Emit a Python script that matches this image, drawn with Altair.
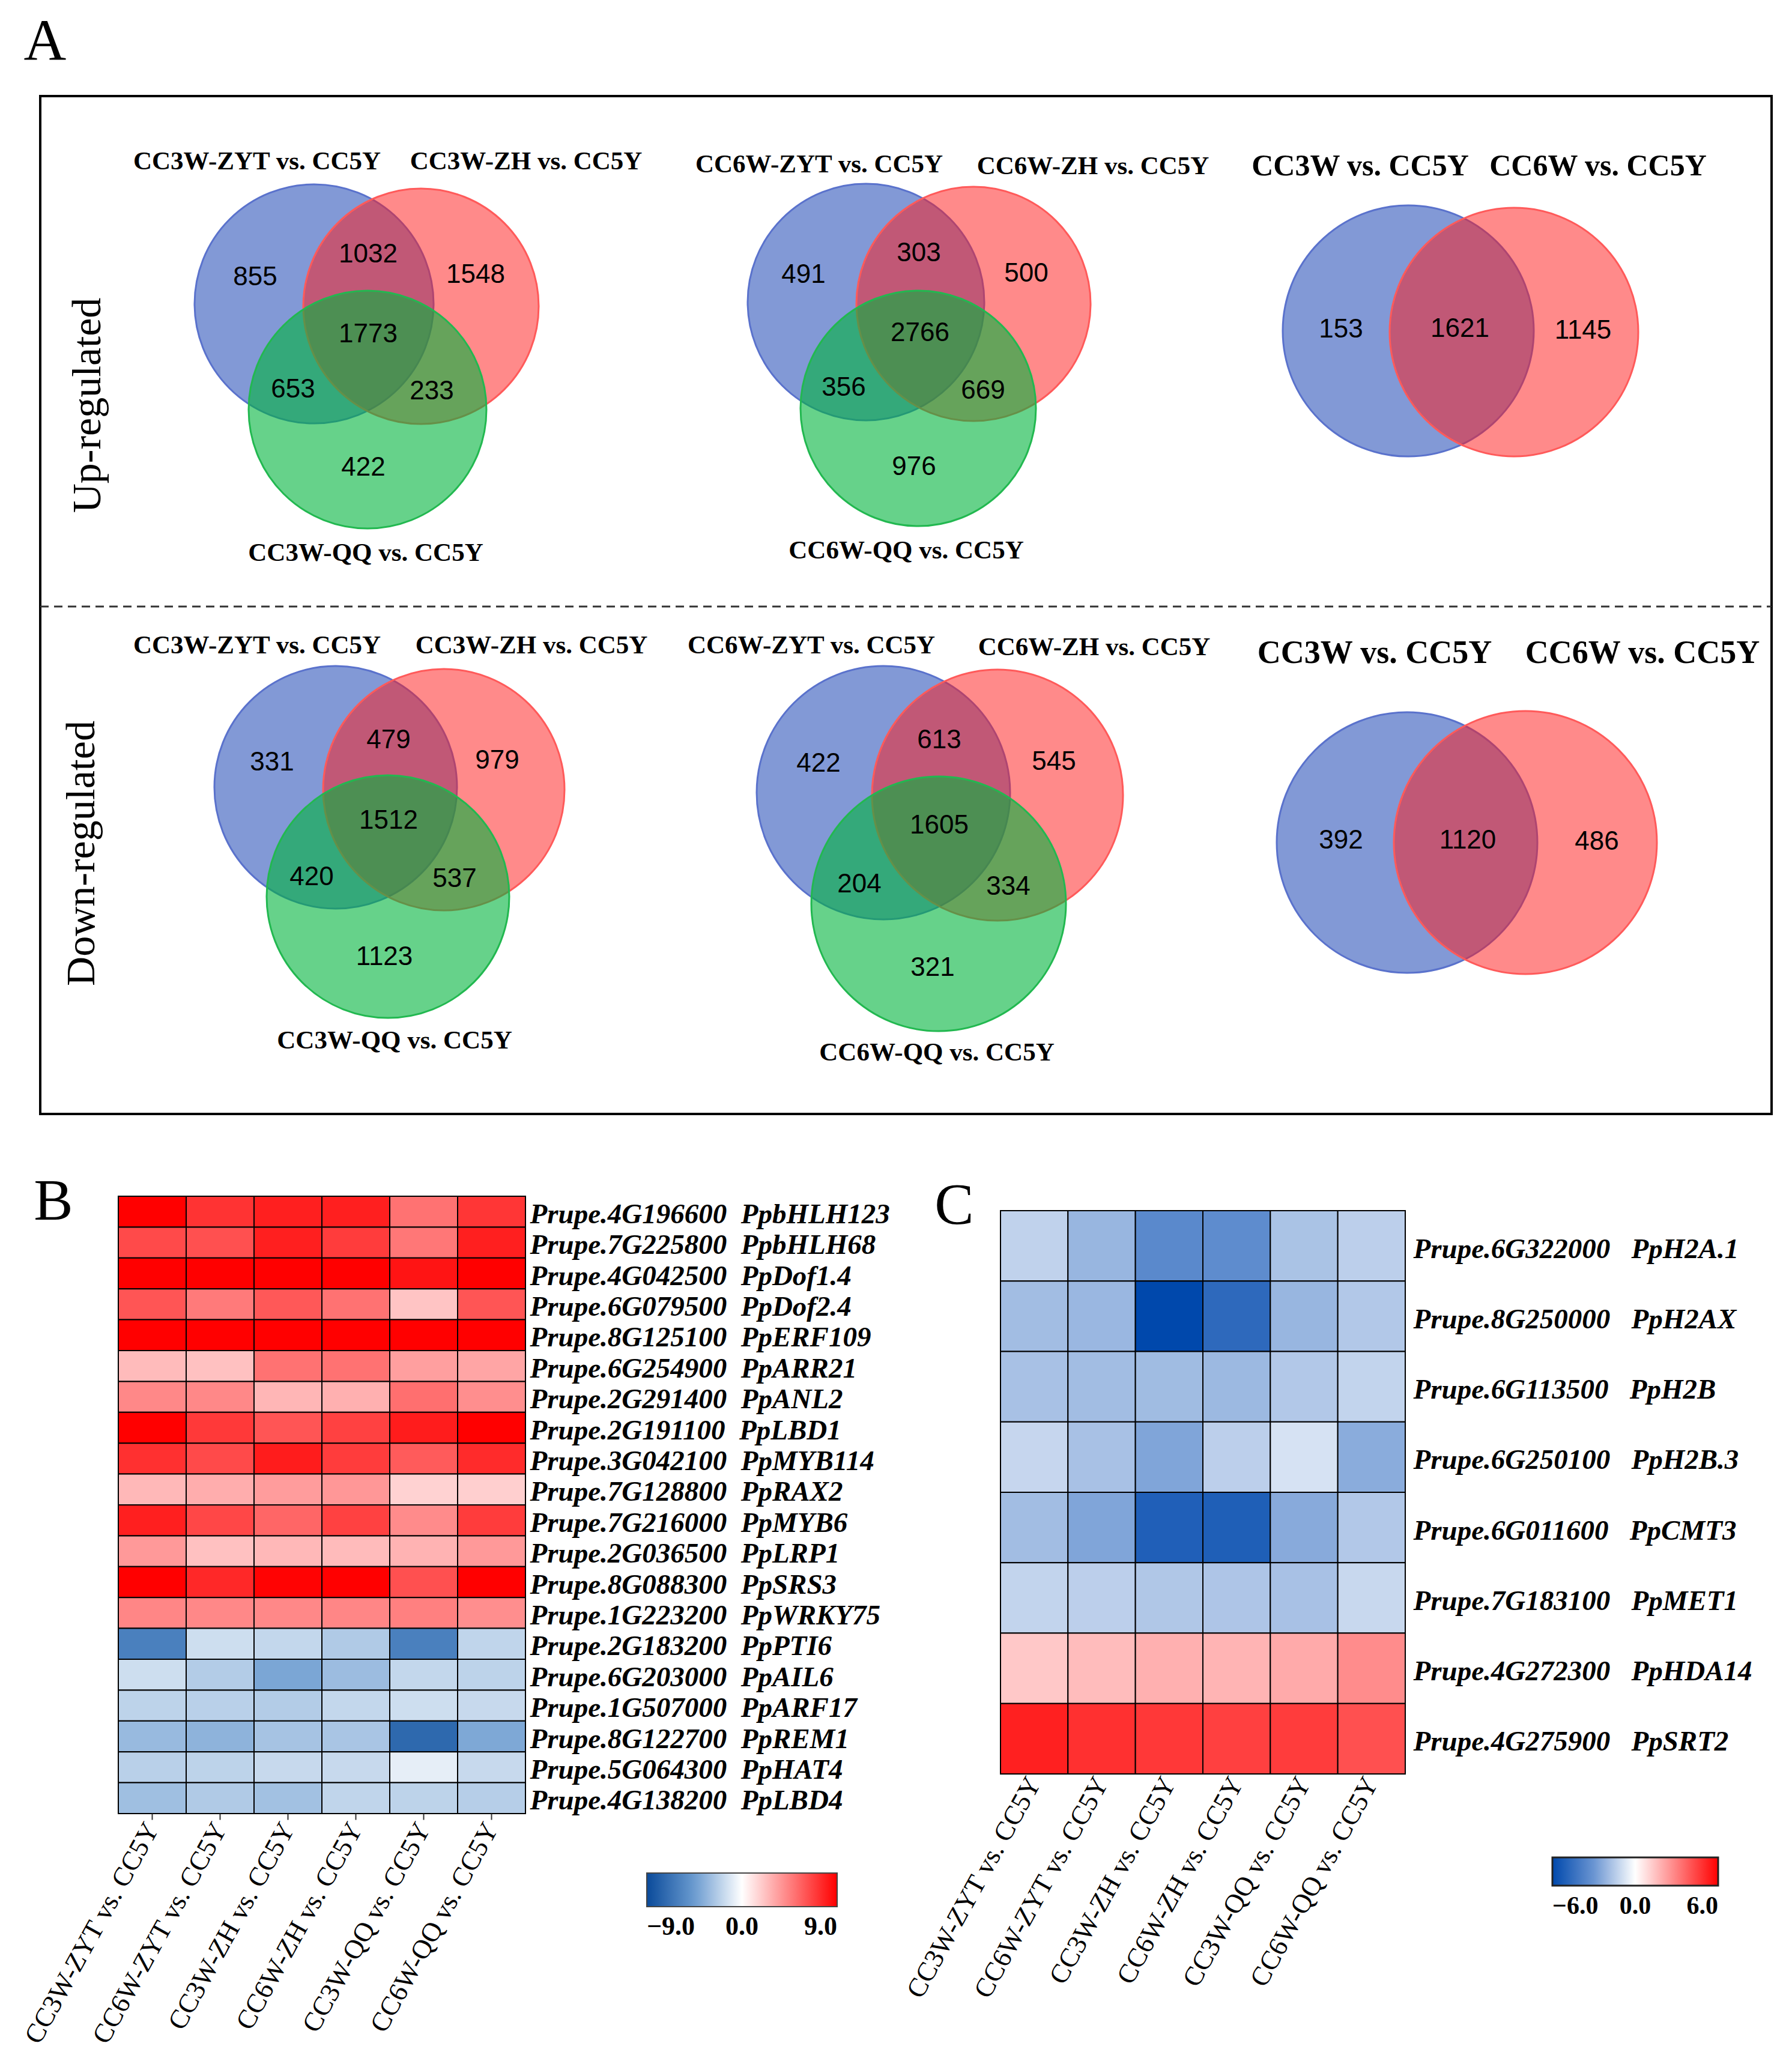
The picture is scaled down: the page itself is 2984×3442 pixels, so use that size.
import altair as alt
import pandas as pd

# ---------------------------------------------------------------- data
# Panel A : Venn diagrams (region order for 3 sets:
#   A only, A&B, B only, A&B&C, A&C, B&C, C only ; for 2 sets: A only, A&B, B only)
up_3w_sets = ["CC3W-ZYT vs. CC5Y", "CC3W-ZH vs. CC5Y", "CC3W-QQ vs. CC5Y"]
up_3w_counts = [855, 1032, 1548, 1773, 653, 233, 422]
up_6w_sets = ["CC6W-ZYT vs. CC5Y", "CC6W-ZH vs. CC5Y", "CC6W-QQ vs. CC5Y"]
up_6w_counts = [491, 303, 500, 2766, 356, 669, 976]
up_w_sets = ["CC3W vs. CC5Y", "CC6W vs. CC5Y"]
up_w_counts = [153, 1621, 1145]
down_3w_sets = ["CC3W-ZYT vs. CC5Y", "CC3W-ZH vs. CC5Y", "CC3W-QQ vs. CC5Y"]
down_3w_counts = [331, 479, 979, 1512, 420, 537, 1123]
down_6w_sets = ["CC6W-ZYT vs. CC5Y", "CC6W-ZH vs. CC5Y", "CC6W-QQ vs. CC5Y"]
down_6w_counts = [422, 613, 545, 1605, 204, 334, 321]
down_w_sets = ["CC3W vs. CC5Y", "CC6W vs. CC5Y"]
down_w_counts = [392, 1120, 486]
row_titles = ["Up-regulated", "Down-regulated"]
panel_letters = ["A", "B", "C"]

# Panels B and C : heatmaps
columns = ["CC3W-ZYT vs. CC5Y", "CC6W-ZYT vs. CC5Y", "CC3W-ZH vs. CC5Y",
           "CC6W-ZH vs. CC5Y", "CC3W-QQ vs. CC5Y", "CC6W-QQ vs. CC5Y"]

ids_b = ["Prupe.4G196600", "Prupe.7G225800", "Prupe.4G042500", "Prupe.6G079500",
         "Prupe.8G125100", "Prupe.6G254900", "Prupe.2G291400", "Prupe.2G191100",
         "Prupe.3G042100", "Prupe.7G128800", "Prupe.7G216000", "Prupe.2G036500",
         "Prupe.8G088300", "Prupe.1G223200", "Prupe.2G183200", "Prupe.6G203000",
         "Prupe.1G507000", "Prupe.8G122700", "Prupe.5G064300", "Prupe.4G138200"]
names_b = ["PpbHLH123", "PpbHLH68", "PpDof1.4", "PpDof2.4", "PpERF109", "PpARR21",
           "PpANL2", "PpLBD1", "PpMYB114", "PpRAX2", "PpMYB6", "PpLRP1", "PpSRS3",
           "PpWRKY75", "PpPTI6", "PpAIL6", "PpARF17", "PpREM1", "PpHAT4", "PpLBD4"]
vals_b = [
    [9.5, 7.2, 7.9, 7.9, 5.0, 7.1],
    [6.4, 6.2, 7.9, 6.9, 4.8, 7.9],
    [9.5, 9.3, 9.5, 9.2, 8.3, 9.4],
    [6.0, 4.7, 5.9, 5.0, 2.1, 6.0],
    [9.6, 9.5, 9.4, 9.5, 9.3, 9.6],
    [2.4, 2.2, 5.0, 5.0, 3.4, 3.2],
    [4.2, 4.2, 2.6, 2.8, 5.1, 4.0],
    [9.3, 7.0, 6.0, 6.7, 8.0, 9.4],
    [7.3, 6.4, 8.0, 6.9, 5.8, 7.5],
    [2.5, 2.9, 3.5, 3.7, 1.6, 1.7],
    [7.9, 6.5, 5.4, 6.7, 4.1, 6.9],
    [3.6, 2.2, 2.5, 2.4, 2.7, 3.6],
    [9.3, 7.6, 8.9, 9.2, 6.2, 9.4],
    [4.3, 4.2, 4.2, 4.3, 4.5, 4.0],
    [-6.0, -1.5, -1.8, -2.4, -6.0, -1.9],
    [-1.5, -2.3, -4.0, -3.0, -1.8, -2.0],
    [-2.0, -2.1, -2.3, -1.8, -1.5, -1.7],
    [-3.1, -3.4, -2.7, -2.6, -7.3, -3.9],
    [-2.1, -2.0, -1.7, -1.7, -0.75, -1.7],
    [-2.9, -2.4, -2.8, -1.9, -2.0, -2.2],
]

ids_c = ["Prupe.6G322000", "Prupe.8G250000", "Prupe.6G113500", "Prupe.6G250100",
         "Prupe.6G011600", "Prupe.7G183100", "Prupe.4G272300", "Prupe.4G275900"]
names_c = ["PpH2A.1", "PpH2AX", "PpH2B", "PpH2B.3", "PpCMT3", "PpMET1", "PpHDA14", "PpSRT2"]
vals_c = [
    [-1.27, -2.07, -3.45, -3.34, -1.71, -1.35],
    [-1.87, -2.03, -6.00, -4.70, -2.07, -1.55],
    [-1.75, -1.87, -1.91, -1.99, -1.55, -1.23],
    [-1.15, -1.75, -2.56, -1.35, -0.83, -2.36],
    [-1.87, -2.56, -5.09, -5.12, -2.40, -1.55],
    [-1.23, -1.35, -1.59, -1.63, -1.75, -1.11],
    [1.30, 1.58, 1.87, 1.77, 2.01, 2.72],
    [5.25, 4.88, 4.69, 4.50, 4.60, 4.13],
]

legend_b_values = [-9, 0, 9]
legend_c_values = [-6, 0, 6]

# ---------------------------------------------------------------- layout (figure pixels)
W, H = 2968, 3426
FIG_X = [8, 2976]
FIG_Y = [8, 3434]

venn_layout = [
    dict(sets=up_3w_sets, counts=up_3w_counts,
         circles=[(523, 506, 199), (701, 510, 196), (612, 682, 198)],
         label_xy=[(428, 269), (876, 269), (609, 921)],
         count_xy=[(425, 462), (613, 424), (792, 458), (613, 557), (488, 649), (719, 652), (605, 779)],
         fs=43),
    dict(sets=up_6w_sets, counts=up_6w_counts,
         circles=[(1442, 503, 197), (1621, 506, 195), (1529, 680, 196)],
         label_xy=[(1364, 274), (1820, 277), (1509, 917)],
         count_xy=[(1338, 458), (1530, 422), (1709, 456), (1532, 555), (1405, 646), (1637, 651), (1522, 778)],
         fs=43),
    dict(sets=up_w_sets, counts=up_w_counts,
         circles=[(2345, 551, 209), (2521, 553, 207)],
         label_xy=[(2265, 277), (2661, 277)],
         count_xy=[(2233, 549), (2431, 548), (2636, 551)],
         fs=50),
    dict(sets=down_3w_sets, counts=down_3w_counts,
         circles=[(559, 1311, 202), (739, 1315, 201), (646, 1493, 202)],
         label_xy=[(428, 1075), (885, 1075), (657, 1733)],
         count_xy=[(453, 1270), (647, 1233), (828, 1267), (647, 1367), (519, 1461), (757, 1464), (640, 1594)],
         fs=43),
    dict(sets=down_6w_sets, counts=down_6w_counts,
         circles=[(1471, 1320, 211), (1661, 1324, 209), (1563, 1505, 212)],
         label_xy=[(1351, 1075), (1822, 1078), (1560, 1753)],
         count_xy=[(1363, 1272), (1564, 1233), (1755, 1269), (1564, 1375), (1431, 1473), (1679, 1477), (1553, 1612)],
         fs=43),
    dict(sets=down_w_sets, counts=down_w_counts,
         circles=[(2343, 1403, 217), (2540, 1403, 219)],
         label_xy=[(2289, 1088), (2735, 1088)],
         count_xy=[(2233, 1400), (2444, 1400), (2659, 1402)],
         fs=54),
]
FILLS = ["#0a37af", "#ff1919", "#00b43c"]
STROKES = ["#5a72cc", "#ff5a5a", "#22b850"]
FOPAC = [0.51, 0.51, 0.6]

row_title_xy = [(147, 675), (137, 1421)]
letter_xy = [(75, 99), (89, 2031), (1589, 2038)]
box_xy = dict(x=67, x2=2950, y=160, y2=1855)
dash_xy = dict(x=67, x2=2950, y=1010)

# heatmap placement (plot-area pixels)
B_X, B_Y = [189, 867], [1984, 3012]
C_X, C_Y = [1658, 2332], [2008, 2946]

# ---------------------------------------------------------------- frames
circ_rows, cnt_rows, lab_rows = [], [], []
for d in venn_layout:
    for i, (cx, cy, r) in enumerate(d["circles"]):
        circ_rows.append(dict(x=cx, y=cy, sz=(2 * r) ** 2, fill=FILLS[i], stroke=STROKES[i],
                              fo=FOPAC[i], o=len(circ_rows)))
    for (x, y), c in zip(d["count_xy"], d["counts"]):
        cnt_rows.append(dict(x=x, y=y, t=str(c)))
    for (x, y), s in zip(d["label_xy"], d["sets"]):
        lab_rows.append(dict(x=x, y=y, t=s, fs=d["fs"]))
circ_df = pd.DataFrame(circ_rows)
cnt_df = pd.DataFrame(cnt_rows)
lab_df = pd.DataFrame(lab_rows)
rows_df = pd.DataFrame([dict(x=x, y=y, t=t) for (x, y), t in zip(row_title_xy, row_titles)])
let_df = pd.DataFrame([dict(x=x, y=y, t=t) for (x, y), t in zip(letter_xy, panel_letters)])
box_df = pd.DataFrame([box_xy])
dash_df = pd.DataFrame([dash_xy])

labels_b = [f"{i}\u00a0\u00a0{n}" for i, n in zip(ids_b, names_b)]
labels_c = [f"{i}\u00a0\u00a0\u00a0{n}" for i, n in zip(ids_c, names_c)]
df_b = pd.DataFrame([dict(col=c, gene=g, v=vals_b[r][j])
                     for r, g in enumerate(labels_b) for j, c in enumerate(columns)])
df_c = pd.DataFrame([dict(col=c, gene=g, v=vals_c[r][j])
                     for r, g in enumerate(labels_c) for j, c in enumerate(columns)])


def xs():
    return alt.Scale(domain=FIG_X, nice=False, zero=False)


def ys():
    return alt.Scale(domain=FIG_Y, nice=False, zero=False, reverse=True)


def X(f="x"):
    return alt.X(f"{f}:Q", scale=xs(), axis=None)


def Y(f="y"):
    return alt.Y(f"{f}:Q", scale=ys(), axis=None)


SERIF = "Liberation Serif"
SANS = "Liberation Sans"

box = alt.Chart(box_df).mark_rect(fill="transparent", stroke="black", strokeWidth=4).encode(
    x=X(), x2="x2:Q", y=Y(), y2="y2:Q")
dash = alt.Chart(dash_df).mark_rule(strokeDash=[14, 9], strokeWidth=3, color="#333333").encode(
    x=X(), x2="x2:Q", y=Y())
circles = alt.Chart(circ_df).mark_circle(opacity=1, strokeWidth=3).encode(
    x=X(), y=Y(),
    size=alt.Size("sz:Q", scale=None),
    fill=alt.Fill("fill:N", scale=None),
    stroke=alt.Stroke("stroke:N", scale=None),
    fillOpacity=alt.FillOpacity("fo:Q", scale=None),
    order=alt.Order("o:Q"))
counts = alt.Chart(cnt_df).mark_text(font=SANS, fontSize=44, color="black",
                                     align="center", baseline="middle").encode(
    x=X(), y=Y(), text="t:N")
setlabels = alt.Chart(lab_df).mark_text(font=SERIF, fontWeight="bold", color="black",
                                        align="center", baseline="middle").encode(
    x=X(), y=Y(), text="t:N", size=alt.Size("fs:Q", scale=None))
rowtitles = alt.Chart(rows_df).mark_text(font=SERIF, fontSize=68, angle=270, color="black",
                                         align="center", baseline="middle").encode(
    x=X(), y=Y(), text="t:N")
letters = alt.Chart(let_df).mark_text(font=SERIF, fontSize=98, color="black",
                                      align="center", baseline="alphabetic").encode(
    x=X(), y=Y(), text="t:N")


def heat(df, labels, xr, yr, dom, rng, legend, ticks, ylab_pad, ylab_off):
    x_axis = alt.Axis(orient="bottom", offset=yr[1] - H, title=None, labelAngle=-61,
                      labelAlign="right", labelBaseline="middle", labelFont=SERIF,
                      labelFontSize=45, labelColor="black", labelPadding=8,
                      labelLimit=2000, labelOverlap=False, labelFlush=False, domain=False,
                      ticks=ticks, tickSize=10, tickWidth=2, tickColor="#333333")
    y_axis = alt.Axis(orient="right", offset=xr[1] - W, title=None, labelFont=SERIF,
                      labelFontSize=47, labelFontWeight="bold", labelFontStyle="italic",
                      labelColor="black", labelPadding=ylab_pad, labelOffset=ylab_off,
                      labelLimit=2000, labelOverlap=False, labelFlush=False,
                      ticks=False, domain=False)
    return alt.Chart(df).mark_rect(stroke="black", strokeWidth=2).encode(
        x=alt.X("col:N", sort=columns,
                scale=alt.Scale(domain=columns, range=xr, paddingInner=0, paddingOuter=0),
                axis=x_axis),
        y=alt.Y("gene:N", sort=labels,
                scale=alt.Scale(domain=labels, range=yr, paddingInner=0, paddingOuter=0),
                axis=y_axis),
        color=alt.Color("v:Q", scale=alt.Scale(domain=dom, range=rng, clamp=True,
                                               interpolate="rgb"),
                        legend=legend))


legend_b = alt.Legend(orient="none", legendX=1069, legendY=3111, direction="horizontal",
                      title=None, gradientLength=317, gradientThickness=56,
                      values=legend_b_values, format=".1f", labelFont=SERIF,
                      labelFontSize=44, labelFontWeight="bold", labelColor="black",
                      labelAlign="center", labelOffset=12, gradientStrokeColor="#444444",
                      gradientStrokeWidth=2, padding=0)
legend_c = alt.Legend(orient="none", legendX=2577, legendY=3085, direction="horizontal",
                      title=None, gradientLength=276, gradientThickness=47,
                      values=legend_c_values, format=".1f", labelFont=SERIF,
                      labelFontSize=42, labelFontWeight="bold", labelColor="black",
                      labelAlign="center", labelOffset=14, gradientStrokeColor="#222222",
                      gradientStrokeWidth=3, padding=0)

heat_b = heat(df_b, labels_b, B_X, B_Y, [-9, -4.5, 0, 4.5, 9],
              ["#0a4a9a", "#6a9bd0", "#ffffff", "#ff8080", "#ff0000"], legend_b, True, 7, 5)
heat_c = heat(df_c, labels_c, C_X, C_Y, [-6, -3, 0, 3, 6],
              ["#0048ac", "#6a95d2", "#ffffff", "#ff8080", "#ff0000"], legend_c, False, 13, 6)

chart = alt.layer(box, dash, circles, counts, setlabels, rowtitles, letters, heat_b, heat_c).resolve_scale(
    x="independent", y="independent", color="independent"
).resolve_axis(
    x="independent", y="independent"
).resolve_legend(
    color="independent"
).properties(
    width=W, height=H, padding=0, background="white",
    autosize=alt.AutoSizeParams(type="none")
).configure_view(stroke=None)

chart.save("out.html", embed_options={"renderer": "svg", "actions": False})
